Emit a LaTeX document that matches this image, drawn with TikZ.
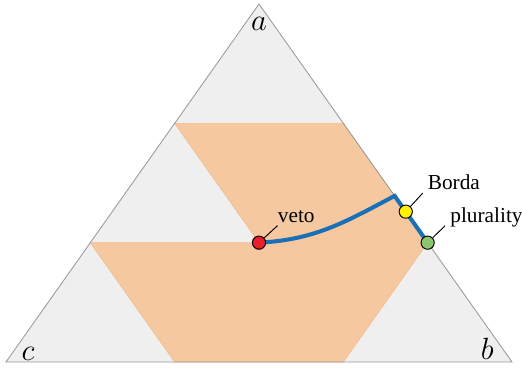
\documentclass[tikz,border=0pt]{standalone}
\usepackage{fontspec}
\setmainfont{Liberation Serif}
\usepackage{tikz}
\usetikzlibrary{positioning}
\definecolor{simplexgray}{HTML}{EFEFEF}
\definecolor{simplexedge}{HTML}{9A9A9A}
\definecolor{regionfill}{HTML}{F5C8A0}
\definecolor{regionedge}{HTML}{F4BC8E}
\definecolor{rulepath}{HTML}{1A6FB6}
\definecolor{vetored}{HTML}{E8202A}
\definecolor{bordayellow}{HTML}{FFF200}
\definecolor{pluralgreen}{HTML}{8CC66C}
\tikzset{
  simplex edge/.style={draw=simplexedge, line width=0.4pt},
  rule region/.style={fill=regionfill, draw=regionedge, line width=0.3pt},
  rule path/.style={draw=rulepath, line width=1.9pt},
  rule dot/.style={circle, draw, inner sep=0pt, minimum size=6.2pt, line width=0.45pt},
  rule label/.style={inner sep=0pt, anchor=base west},
  rule leader/.style={line width=0.45pt},
  corner label/.style={inner sep=0pt, font=\Large}
}

\begin{document}
\begin{tikzpicture}
  \useasboundingbox (-0.099,-0.1155) rectangle (8.514,5.973);
  \coordinate (c) at (0,0);
  \coordinate (b) at (8.349,0);
  \coordinate (a) at (4.1745,5.907);
  \fill[simplexgray] (a) -- (b) -- (c) -- cycle;
  \filldraw[rule region] (barycentric cs:a=2,b=0,c=1) -- (barycentric cs:a=2,b=1,c=0)
    -- (barycentric cs:a=1,b=2,c=0) -- (barycentric cs:a=0,b=2,c=1)
    -- (barycentric cs:a=0,b=1,c=2) -- (barycentric cs:a=1,b=0,c=2)
    -- (barycentric cs:a=1,b=1,c=1) -- cycle;
  \draw[simplex edge] (a) -- (b) -- (c) -- cycle;
  % corners
  \node[corner label, below=0.21cm of a] (alabel) {$a$};
  \node[corner label, anchor=base] (blabel) at ([shift={(-0.41,0.045)}]b) {$b$};
  \node[corner label, anchor=base] (clabel) at ([shift={(0.363,0.025)}]c) {$c$};
  % rules
  \coordinate (vetopt) at (barycentric cs:a=1,b=1,c=1);
  \coordinate (kink) at (barycentric cs:a=0.464,b=0.536,c=0);
  \coordinate (bordapt) at (barycentric cs:a=0.42,b=0.58,c=0);
  \coordinate (pluralpt) at (barycentric cs:a=1,b=2,c=0);
  \draw[rule path] (vetopt) to[out=3,in=-152] (kink) -- (pluralpt);
  \node[rule dot, fill=vetored] (veto) at (vetopt) {};
  \node[rule dot, fill=bordayellow] (borda) at (bordapt) {};
  \node[rule dot, fill=pluralgreen] (plurality) at (pluralpt) {};
  \node[rule label] (vetolbl) at ([shift={(0.305,0.33)}]vetopt) {veto};
  \node[rule label] (bordalbl) at ([shift={(0.358,0.358)}]bordapt) {Borda};
  \node[rule label] (plurallbl) at ([shift={(0.368,0.325)}]pluralpt) {plurality};
  \draw[rule leader] (veto) -- ([shift={(0,-0.05)}]vetolbl.base west);
  \draw[rule leader] (borda) -- ([shift={(-0.08,-0.055)}]bordalbl.base west);
  \draw[rule leader] (plurality) -- ([shift={(-0.08,-0.045)}]plurallbl.base west);
\end{tikzpicture}
\end{document}
